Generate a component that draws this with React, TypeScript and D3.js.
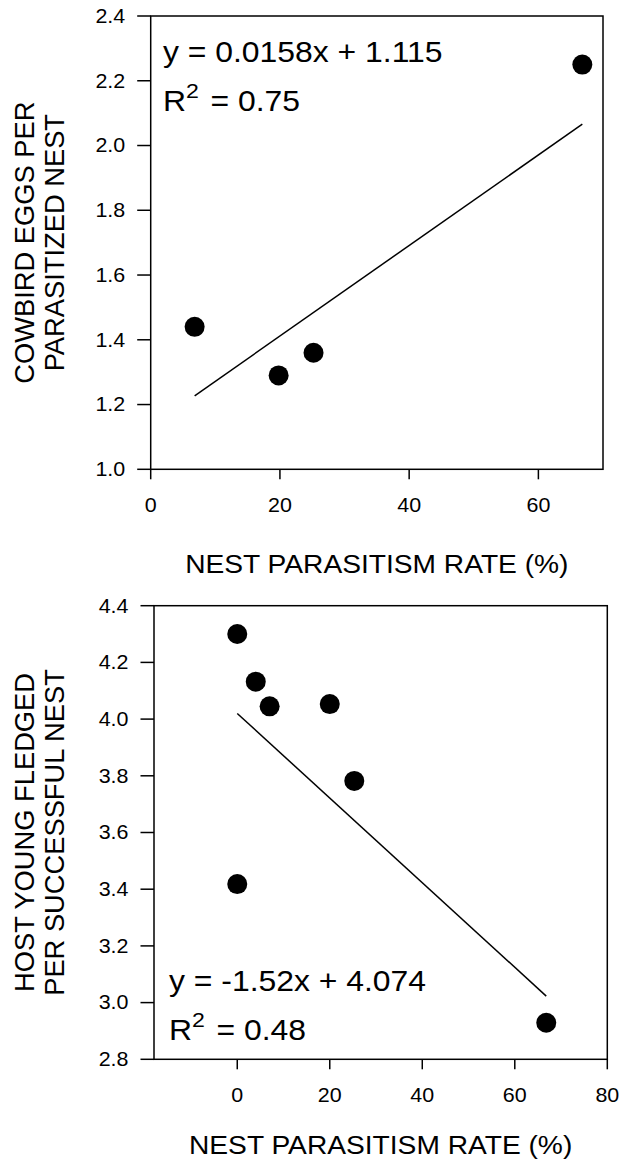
import * as d3 from "d3";
import * as React from "react";

// upper panel: cowbird eggs vs parasitism rate
const topRate = [6.8, 19.8, 25.2, 66.8];
const topEggs = [1.44, 1.29, 1.36, 2.25];
const topFitRate = [6.8, 66.8];
const topFitEggs = [1.227, 2.066];
const topXTicks = [0, 20, 40, 60];
const topYTicks = [1.0, 1.2, 1.4, 1.6, 1.8, 2.0, 2.2, 2.4];

// lower panel: host young fledged vs parasitism rate
const bottomRate = [0, 4, 7, 20, 25.3, 0, 66.8];
const bottomYoung = [4.3, 4.132, 4.045, 4.053, 3.782, 3.418, 2.929];
const bottomFitRate = [0, 66.8];
const bottomFitYoung = [4.02, 3.023];
const bottomXTicks = [0, 20, 40, 60, 80];
const bottomYTicks = [2.8, 3.0, 3.2, 3.4, 3.6, 3.8, 4.0, 4.2, 4.4];

const xTitle = "NEST PARASITISM RATE (%)";
const font = "'Liberation Sans', Arial, Helvetica, sans-serif";
const sx = 1.1; // horizontal text in the original is a bit wide

function WideText(props: {
  x: number; y: number; size: number; anchor?: string; dy?: string;
  children: React.ReactNode;
}) {
  return (
    <text transform={`translate(${props.x},${props.y}) scale(${sx},1)`}
      textAnchor={props.anchor ?? "start"} dy={props.dy} fontSize={props.size}>
      {props.children}
    </text>
  );
}

interface PanelProps {
  xs: number[];
  ys: number[];
  fitX: number[];
  fitY: number[];
  xDomain: [number, number];
  yDomain: [number, number];
  xRange: [number, number];
  yRange: [number, number];
  xTicks: number[];
  yTicks: number[];
  yTitle: string[];
  eq: string;
  r2: string;
  eqPos: [number, number];
  titleGap: number;
}

function Panel(p: PanelProps) {
  const x = d3.scaleLinear(p.xDomain, p.xRange);
  const y = d3.scaleLinear(p.yDomain, p.yRange);
  const [x0, x1] = p.xRange;
  const [y0, y1] = p.yRange;
  const fit = d3.line<number>()
    .x((d) => x(d))
    .y((_, i) => y(p.fitY[i]));
  const yMid = (y0 + y1) / 2;

  return (
    <g fontFamily={font} fill="#000">
      <rect x={x0} y={y1} width={x1 - x0} height={y0 - y1}
        fill="none" stroke="#000" strokeWidth={1.5} />
      {p.yTicks.map((t) => (
        <g key={"y" + t}>
          <line x1={x0 - 13.5} x2={x0} y1={y(t)} y2={y(t)} stroke="#000" strokeWidth={1.5} />
          <WideText x={x0 - 25.5} y={y(t)} dy="0.35em" anchor="end" size={19.5}>
            {t.toFixed(1)}
          </WideText>
        </g>
      ))}
      {p.xTicks.map((t) => (
        <g key={"x" + t}>
          <line x1={x(t)} x2={x(t)} y1={y0} y2={y0 + 10} stroke="#000" strokeWidth={1.5} />
          <WideText x={x(t)} y={y0 + 42.5} anchor="middle" size={19.5}>
            {t}
          </WideText>
        </g>
      ))}
      <path d={fit(p.fitX) ?? ""} fill="none" stroke="#000" strokeWidth={1.5} />
      {p.xs.map((d, i) => (
        <circle key={i} cx={x(d)} cy={y(p.ys[i])} r={10} fill="#000" />
      ))}
      <WideText x={p.eqPos[0]} y={p.eqPos[1]} size={29}>{p.eq}</WideText>
      <WideText x={p.eqPos[0]} y={p.eqPos[1] + 49} size={29}>
        <tspan>R</tspan>
        <tspan fontSize={21} dy={-13}>2</tspan>
        <tspan dy={13} dx={2.5}>{" = " + p.r2}</tspan>
      </WideText>
      <WideText x={(x0 + x1) / 2} y={y0 + p.titleGap} anchor="middle" size={25.6}>
        {xTitle}
      </WideText>
      {p.yTitle.map((s, i) => (
        <text key={s} transform={`translate(${33.5 + i * 30},${yMid}) rotate(-90)`}
          textAnchor="middle" fontSize={27.3}>
          {s}
        </text>
      ))}
    </g>
  );
}

export default function App() {
  return (
    <svg width={621} height={1164} viewBox="0 0 621 1164"
      style={{ position: "absolute", left: 0, top: 0, background: "#fff" }}>
      <rect width={621} height={1164} fill="#fff" />
      <Panel
        xs={topRate} ys={topEggs} fitX={topFitRate} fitY={topFitEggs}
        xDomain={[0, 70]} yDomain={[1.0, 2.4]}
        xRange={[150.7, 603]} yRange={[469.3, 16]}
        xTicks={topXTicks} yTicks={topYTicks}
        yTitle={["COWBIRD EGGS PER", "PARASITIZED NEST"]}
        eq="y = 0.0158x + 1.115" r2="0.75" eqPos={[163, 62]} titleGap={104}
      />
      <Panel
        xs={bottomRate} ys={bottomYoung} fitX={bottomFitRate} fitY={bottomFitYoung}
        xDomain={[-18, 80]} yDomain={[2.8, 4.4]}
        xRange={[154, 607.3]} yRange={[1059.3, 605.7]}
        xTicks={bottomXTicks} yTicks={bottomYTicks}
        yTitle={["HOST YOUNG FLEDGED", "PER SUCCESSFUL NEST"]}
        eq="y = -1.52x + 4.074" r2="0.48" eqPos={[169, 991]} titleGap={95}
      />
    </svg>
  );
}
